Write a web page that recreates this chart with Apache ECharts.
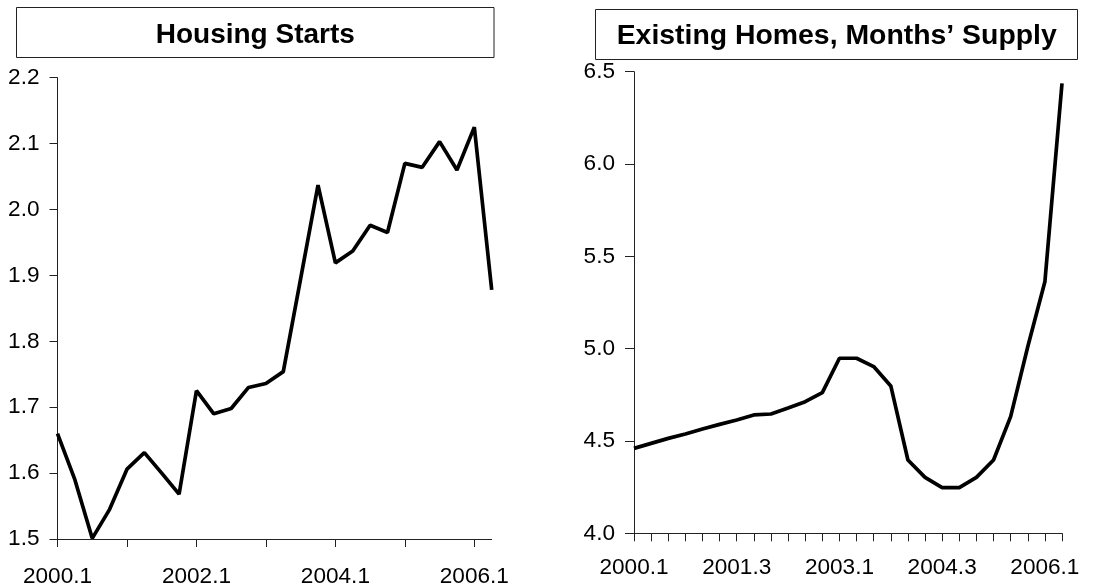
<!DOCTYPE html>
<html>
<head>
<meta charset="utf-8">
<script src="https://cdn.jsdelivr.net/npm/echarts@6/dist/echarts.min.js"></script>
<style>
html,body{margin:0;padding:0;background:#fff;}
#chart{width:1114px;height:586px;}
</style>
</head>
<body>
<div id="chart"></div>
<script>
const quarters = [
  '2000.1','2000.2','2000.3','2000.4',
  '2001.1','2001.2','2001.3','2001.4',
  '2002.1','2002.2','2002.3','2002.4',
  '2003.1','2003.2','2003.3','2003.4',
  '2004.1','2004.2','2004.3','2004.4',
  '2005.1','2005.2','2005.3','2005.4',
  '2006.1','2006.2'
];
const housingStarts = [
  1.660, 1.590, 1.501, 1.545,
  1.606, 1.631, 1.600, 1.568,
  1.725, 1.690, 1.698, 1.730,
  1.736, 1.754, 1.895, 2.037,
  1.919, 1.937, 1.976, 1.965,
  2.070, 2.064, 2.103, 2.060,
  2.125, 1.878
];
const monthsSupply = [
  4.460, 4.487, 4.514, 4.538,
  4.565, 4.590, 4.614, 4.641,
  4.646, 4.679, 4.713, 4.762,
  4.948, 4.948, 4.903, 4.798,
  4.397, 4.303, 4.247, 4.247,
  4.303, 4.397, 4.632, 5.010,
  5.362, 6.437
];
const leftTitle = 'Housing Starts';
const rightTitle = 'Existing Homes, Months\u2019 Supply';
const leftYTicks = { min: 1.5, max: 2.2, step: 0.1 };
const rightYTicks = { min: 4.0, max: 6.5, step: 0.5 };

const FONT = "'Liberation Sans', Arial, sans-serif";
const chart = echarts.init(document.getElementById('chart'), null, {renderer: 'canvas'});

const axisLineStyle = { color: '#222', width: 1 };

chart.setOption({
  backgroundColor: '#fff',
  animation: false,
  title: [
    { text: leftTitle, left: 255.3, top: 34.8, padding: 0, textAlign: 'center', textVerticalAlign: 'middle',
      textStyle: { fontFamily: FONT, fontSize: 28, fontWeight: 'bold', color: '#000' } },
    { text: rightTitle, left: 836.7, top: 36.4, padding: 0, textAlign: 'center', textVerticalAlign: 'middle',
      textStyle: { fontFamily: FONT, fontSize: 28.4, fontWeight: 'bold', color: '#000' } }
  ],
  graphic: [
    { type: 'rect', shape: { x: 16.5, y: 7.5, width: 477.5, height: 50 },
      style: { fill: 'none', stroke: '#222', lineWidth: 1 }, silent: true, z: -1 },
    { type: 'rect', shape: { x: 595.5, y: 9.5, width: 482, height: 50 },
      style: { fill: 'none', stroke: '#222', lineWidth: 1 }, silent: true, z: -1 }
  ],
  grid: [
    { left: 57.5, top: 77.7, width: 434.2, height: 461.3, containLabel: false, outerBoundsMode: 'none' },
    { left: 634, top: 71.7, width: 428, height: 461.6, containLabel: false, outerBoundsMode: 'none' }
  ],
  xAxis: [
    { type: 'category', gridIndex: 0, data: quarters, boundaryGap: false,
      axisLine: { lineStyle: axisLineStyle },
      axisTick: { interval: 3, length: 8, lineStyle: axisLineStyle },
      axisLabel: { interval: 7, margin: 26, fontFamily: FONT, fontSize: 22.6, color: '#000' },
      splitLine: { show: false } },
    { type: 'category', gridIndex: 1, data: quarters, boundaryGap: false,
      axisLine: { lineStyle: axisLineStyle },
      axisTick: { interval: 0, length: 8, lineStyle: axisLineStyle },
      axisLabel: { interval: 5, margin: 23, fontFamily: FONT, fontSize: 22.6, color: '#000' },
      splitLine: { show: false } }
  ],
  yAxis: [
    { type: 'value', gridIndex: 0, min: leftYTicks.min, max: leftYTicks.max, interval: leftYTicks.step,
      axisLine: { show: true, lineStyle: axisLineStyle },
      axisTick: { show: true, length: 8, lineStyle: axisLineStyle },
      axisLabel: { margin: 18, fontFamily: FONT, fontSize: 22.6, color: '#000',
        formatter: v => v.toFixed(1) },
      splitLine: { show: false } },
    { type: 'value', gridIndex: 1, min: rightYTicks.min, max: rightYTicks.max, interval: rightYTicks.step,
      axisLine: { show: true, lineStyle: axisLineStyle },
      axisTick: { show: true, length: 9, lineStyle: axisLineStyle },
      axisLabel: { margin: 19, fontFamily: FONT, fontSize: 22.6, color: '#000',
        formatter: v => v.toFixed(1) },
      splitLine: { show: false } }
  ],
  series: [
    { name: leftTitle, type: 'line', xAxisIndex: 0, yAxisIndex: 0, data: housingStarts,
      showSymbol: false, symbol: 'none', lineStyle: { color: '#000', width: 3.7 } },
    { name: rightTitle, type: 'line', xAxisIndex: 1, yAxisIndex: 1, data: monthsSupply,
      showSymbol: false, symbol: 'none', lineStyle: { color: '#000', width: 3.7 } }
  ]
});
</script>
</body>
</html>
